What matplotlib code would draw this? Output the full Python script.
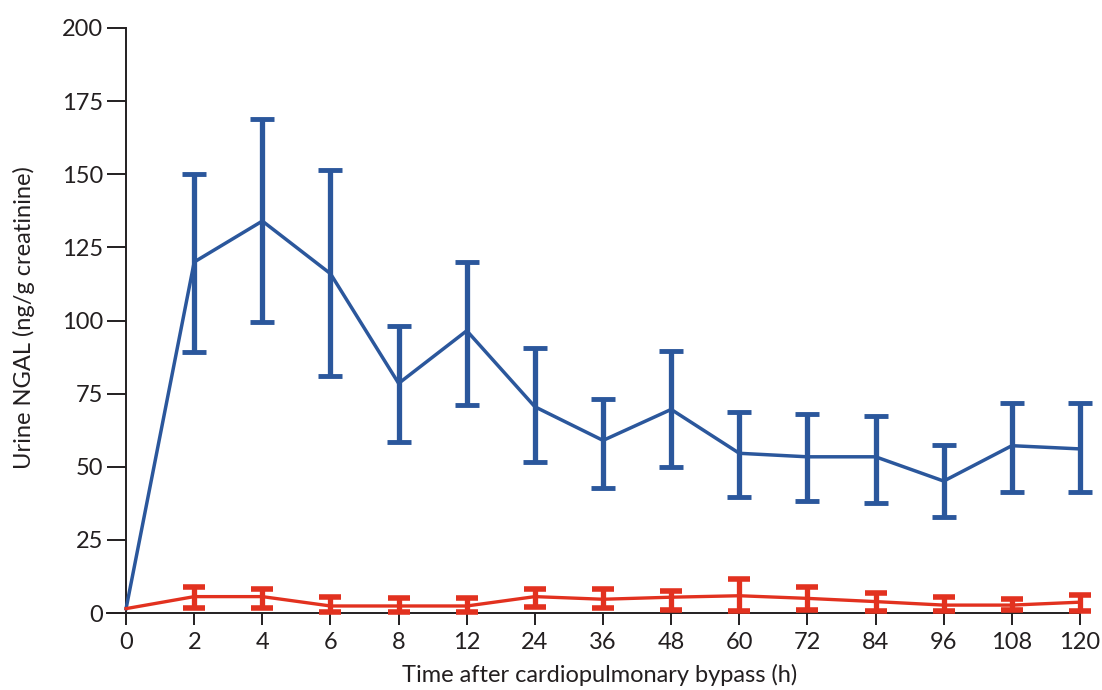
import matplotlib
matplotlib.use("Agg")
import matplotlib.pyplot as plt
import numpy as np

OUT_FILE = "out.png"

# time points after bypass (h), plotted as equally spaced categories
time_labels = ["0", "2", "4", "6", "8", "12", "24", "36", "48", "60", "72", "84", "96", "108", "120"]

# AKI group (blue): mean, upper and lower bar ends
aki_mean = [1.5, 120, 134, 116, 78.5, 96.5, 70.5, 59, 69.6, 54.6, 53.4, 53.4, 45.1, 57.2, 56.1]
aki_upper = [np.nan, 150, 169, 151.5, 98, 120, 90.6, 73, 89.7, 68.8, 67.9, 67.5, 57.5, 71.9, 71.9]
aki_lower = [np.nan, 89.2, 99.5, 81, 58.4, 71.2, 51.7, 42.6, 50, 39.5, 38.4, 37.7, 32.7, 41.5, 41.5]

# no AKI group (red)
noaki_mean = [1.5, 5.6, 5.6, 2.4, 2.4, 2.4, 5.6, 4.7, 5.4, 5.9, 5.0, 3.9, 2.7, 2.7, 3.7]
noaki_upper = [np.nan, 8.8, 8.1, 5.6, 5.0, 5.0, 8.1, 8.1, 7.6, 11.5, 8.8, 6.7, 5.6, 4.7, 6.2]
noaki_lower = [np.nan, 1.8, 1.8, 0.5, 0.5, 0.5, 2.2, 1.6, 1.0, 0.7, 1.0, 0.8, 0.6, 1.0, 0.8]

y_ticks = [0, 25, 50, 75, 100, 125, 150, 175, 200]

BLUE = "#2b579c"
RED = "#e2311f"
INK = "#231f20"

plt.rcParams["font.family"] = ["Lato", "DejaVu Sans"]


def draw_series(ax, x, mean, upper, lower, color, lw, elw, capsize, capthick):
    mean = np.array(mean, dtype=float)
    upper = np.array(upper, dtype=float)
    lower = np.array(lower, dtype=float)
    ax.plot(x, mean, color=color, lw=lw, zorder=3, clip_on=False)
    has_bar = ~np.isnan(upper)
    yerr = np.vstack([mean[has_bar] - lower[has_bar], upper[has_bar] - mean[has_bar]])
    _, caps, bars = ax.errorbar(x[has_bar], mean[has_bar], yerr=yerr, fmt="none",
                                ecolor=color, elinewidth=elw, capsize=capsize,
                                capthick=capthick, zorder=3)
    for c in caps:
        c.set_clip_on(False)
    for b in bars:
        b.set_clip_on(False)


fig = plt.figure(figsize=(11.02, 6.90), dpi=100)
ax = fig.add_axes([107 / 1102, 1 - 613 / 690, (1080 - 107) / 1102, (613 - 28) / 690])

x = np.arange(len(time_labels))

draw_series(ax, x, aki_mean, aki_upper, aki_lower, BLUE, 2.5, 3.8, 8.6, 3.5)
draw_series(ax, x, noaki_mean, noaki_upper, noaki_lower, RED, 2.4, 3.8, 8.0, 4.0)

ax.set_xlim(-0.28, len(time_labels) - 1)
ax.set_ylim(0, 200)
ax.spines["left"].set_position(("data", 0))
ax.spines["right"].set_visible(False)
ax.spines["top"].set_visible(False)
for s in ("left", "bottom"):
    ax.spines[s].set_linewidth(1.4)
    ax.spines[s].set_color(INK)

ax.set_xticks(x)
ax.set_xticklabels(time_labels)
ax.set_yticks(y_ticks)
ax.set_yticklabels([str(v) for v in y_ticks])
ax.tick_params(axis="y", length=13.5, width=1.4, color=INK, pad=3, labelsize=17, labelcolor=INK)
ax.tick_params(axis="x", length=8.5, width=1.4, color=INK, pad=5, labelsize=17, labelcolor=INK)

fig.text(600 / 1102, 1 - 675 / 690, "Time after cardiopulmonary bypass (h)",
         ha="center", va="center", fontsize=17, color=INK)
fig.text(24 / 1102, 1 - 318 / 690, "Urine NGAL (ng/g creatinine)",
         ha="center", va="center", rotation=90, fontsize=17, color=INK)

fig.savefig(OUT_FILE, dpi=100, facecolor="white")
plt.close(fig)
